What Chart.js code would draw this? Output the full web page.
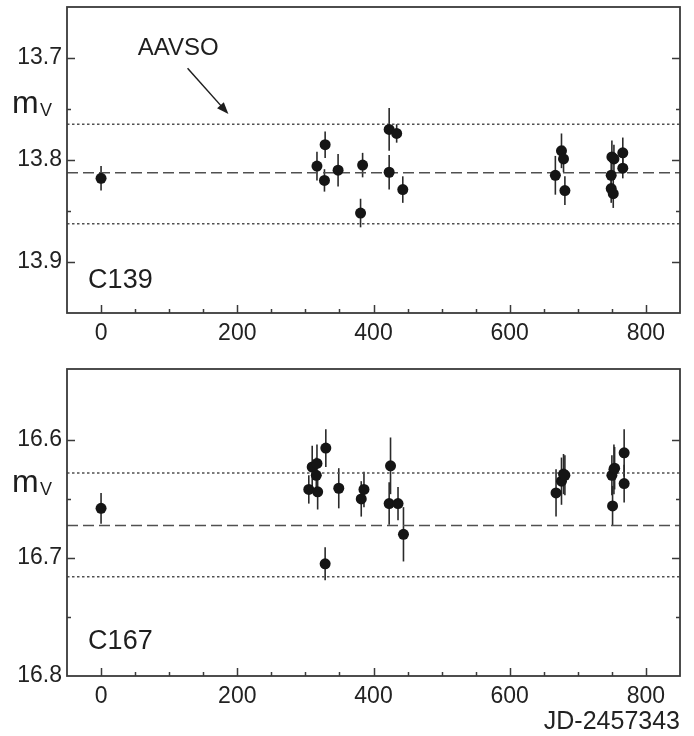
<!DOCTYPE html>
<html>
<head>
<meta charset="utf-8">
<script src="https://cdn.jsdelivr.net/npm/chart.js@4/dist/chart.umd.min.js"></script>
<style>
  body { margin: 0; background: #fff; }
  .panel { position: absolute; left: 0; width: 694px; }
  #top_panel { top: 0; height: 360px; }
  #bottom_panel { top: 360px; height: 376px; }
</style>
</head>
<body>
<div class="panel" id="top_panel"><canvas id="chart_c139"></canvas></div>
<div class="panel" id="bottom_panel"><canvas id="chart_c167"></canvas></div>
<script>
// C139
let c139Days = [0, 317, 329, 328, 348, 381, 384, 423, 434, 423, 443, 667, 676, 679, 681, 750, 753, 749, 749, 752, 766, 766]
let c139Mag = [13.818, 13.806, 13.785, 13.820, 13.810, 13.852, 13.805, 13.770, 13.774, 13.812, 13.829, 13.815, 13.791, 13.799, 13.830, 13.797, 13.799, 13.815, 13.828, 13.833, 13.793, 13.808]
let c139Err = [0.012, 0.014, 0.013, 0.011, 0.016, 0.014, 0.012, 0.021, 0.009, 0.017, 0.013, 0.019, 0.017, 0.013, 0.014, 0.016, 0.014, 0.016, 0.014, 0.014, 0.015, 0.010]
let c139Levels = [13.765, 13.8124, 13.8626]   // AAVSO mean and +-1 sigma

// C167
let c167Days = [0, 305, 310, 316, 317, 318, 330, 329, 349, 382, 386, 425, 423, 436, 444, 668, 676, 679, 681, 750, 753, 754, 751, 768, 768]
let c167Mag = [16.658, 16.642, 16.623, 16.630, 16.620, 16.644, 16.607, 16.705, 16.641, 16.650, 16.642, 16.622, 16.654, 16.654, 16.680, 16.645, 16.635, 16.629, 16.630, 16.630, 16.625, 16.624, 16.656, 16.611, 16.637]
let c167Err = [0.013, 0.012, 0.018, 0.015, 0.016, 0.015, 0.016, 0.014, 0.017, 0.015, 0.015, 0.024, 0.018, 0.014, 0.023, 0.020, 0.020, 0.017, 0.017, 0.017, 0.021, 0.018, 0.017, 0.020, 0.016]
let c167Levels = [16.628, 16.6725, 16.716]

let xRange = [-50, 850]
let xLabelStep = 200
let xTickStep = 50
let yTickStep = 0.05
let xTitle = 'JD-2457343'

Chart.defaults.font.family = '"Liberation Sans", Arial, Helvetica, sans-serif'
Chart.defaults.color = '#222'

const isTenth = v => Math.abs(v * 10 - Math.round(v * 10)) < 1e-6

// vertical error bars under the points
const errorBars = {
  id: 'errorBars',
  beforeDatasetsDraw(chart, args, opts) {
    let { ctx, scales: { y } } = chart
    let meta = chart.getDatasetMeta(0)
    let data = chart.data.datasets[0].data
    ctx.save()
    ctx.strokeStyle = '#2a2a2a'
    ctx.lineWidth = 1.6
    meta.data.forEach((pt, i) => {
      let e = opts.err[i]
      ctx.beginPath()
      ctx.moveTo(pt.x, y.getPixelForValue(data[i].y - e))
      ctx.lineTo(pt.x, y.getPixelForValue(data[i].y + e))
      ctx.stroke()
    })
    ctx.restore()
  }
}

// box frame with inward ticks on bottom, left and right
const frameTicks = {
  id: 'frameTicks',
  afterDraw(chart) {
    let { ctx, chartArea: a, scales: { x, y } } = chart
    ctx.save()
    ctx.strokeStyle = '#3a3a3a'
    ctx.lineWidth = 1.5
    x.ticks.forEach(t => {
      if (t.value <= x.min || t.value >= x.max) return
      let px = Math.round(x.getPixelForValue(t.value)) + 0.5
      let len = t.value % xLabelStep === 0 ? 8 : 4
      ctx.beginPath()
      ctx.moveTo(px, a.bottom)
      ctx.lineTo(px, a.bottom - len)
      ctx.stroke()
    })
    y.ticks.forEach(t => {
      if (t.value <= y.min + 1e-6 || t.value >= y.max - 1e-6) return
      let py = Math.round(y.getPixelForValue(t.value)) + 0.5
      let len = isTenth(t.value) ? 8 : 4
      ctx.beginPath()
      ctx.moveTo(a.left, py)
      ctx.lineTo(a.left + len, py)
      ctx.moveTo(a.right, py)
      ctx.lineTo(a.right - len, py)
      ctx.stroke()
    })
    ctx.lineWidth = 1.8
    ctx.strokeRect(a.left, a.top, a.right - a.left, a.bottom - a.top)
    ctx.restore()
  }
}

// free text: star name, m_V label, AAVSO arrow
const notes = {
  id: 'notes',
  afterDraw(chart, args, opts) {
    let { ctx, scales: { x, y } } = chart
    ctx.save()
    ctx.fillStyle = '#1e1e1e'
    ctx.textBaseline = 'alphabetic'
    ctx.textAlign = 'left'
    opts.texts.forEach(t => {
      ctx.font = t.font
      let px = t.px != null ? t.px : x.getPixelForValue(t.x)
      let py = t.py != null ? t.py : y.getPixelForValue(t.y)
      ctx.fillText(t.text, px, py)
    })
    if (opts.arrow) {
      let x0 = x.getPixelForValue(opts.arrow[0]), y0 = y.getPixelForValue(opts.arrow[1])
      let x1 = x.getPixelForValue(opts.arrow[2]), y1 = y.getPixelForValue(opts.arrow[3])
      let ang = Math.atan2(y1 - y0, x1 - x0)
      ctx.strokeStyle = '#1e1e1e'
      ctx.lineWidth = 1.5
      ctx.beginPath()
      ctx.moveTo(x0, y0)
      ctx.lineTo(x1 - 8 * Math.cos(ang), y1 - 8 * Math.sin(ang))
      ctx.stroke()
      ctx.beginPath()
      ctx.moveTo(x1, y1)
      ctx.lineTo(x1 - 12 * Math.cos(ang) + 4.5 * Math.sin(ang), y1 - 12 * Math.sin(ang) - 4.5 * Math.cos(ang))
      ctx.lineTo(x1 - 12 * Math.cos(ang) - 4.5 * Math.sin(ang), y1 - 12 * Math.sin(ang) + 4.5 * Math.cos(ang))
      ctx.closePath()
      ctx.fill()
    }
    ctx.restore()
  }
}

function levelLine(value, dash) {
  return {
    data: [{ x: xRange[0], y: value }, { x: xRange[1], y: value }],
    showLine: true,
    borderColor: '#505050',
    borderWidth: 1.5,
    borderDash: dash,
    pointRadius: 0
  }
}

function makePanel(canvasId, days, mags, errs, levels, yMin, yMax, padTop, axisHeight, noteOpts, withTitle) {
  let points = days.map((d, i) => ({ x: d, y: mags[i] }))
  return new Chart(document.getElementById(canvasId), {
    type: 'scatter',
    data: {
      datasets: [
        {
          data: points,
          pointRadius: 5.5,
          pointHoverRadius: 5.5,
          pointBackgroundColor: '#151515',
          pointBorderWidth: 0
        },
        levelLine(levels[0], [2.5, 2.5]),
        levelLine(levels[1], [11, 5]),
        levelLine(levels[2], [2.5, 2.5])
      ]
    },
    options: {
      responsive: true,
      maintainAspectRatio: false,
      animation: false,
      events: [],
      layout: { padding: { left: 0, right: 14, top: padTop, bottom: 0 } },
      plugins: {
        legend: { display: false },
        tooltip: { enabled: false },
        errorBars: { err: errs },
        notes: noteOpts
      },
      scales: {
        x: {
          type: 'linear',
          min: xRange[0],
          max: xRange[1],
          grid: { display: false, drawTicks: false },
          border: { display: false },
          ticks: {
            stepSize: xTickStep,
            autoSkip: false,
            maxRotation: 0,
            padding: 7,
            font: { size: 23 },
            color: '#222',
            callback: v => v % xLabelStep === 0 ? String(v) : ''
          },
          title: {
            display: withTitle,
            text: xTitle,
            align: 'end',
            font: { size: 25 },
            color: '#222',
            padding: { top: 0, bottom: -1 }
          },
          afterFit: s => { s.height = axisHeight; s.paddingLeft = 0; s.paddingRight = 0 }
        },
        y: {
          reverse: true,
          min: yMin,
          max: yMax,
          grid: { display: false, drawTicks: false },
          border: { display: false },
          ticks: {
            stepSize: yTickStep,
            autoSkip: false,
            padding: 5,
            font: { size: 23 },
            color: '#222',
            callback: v => isTenth(v) ? v.toFixed(1) : ''
          },
          afterFit: s => { s.width = 67; s.paddingTop = 0; s.paddingBottom = 0 }
        }
      }
    },
    plugins: [errorBars, frameTicks, notes]
  })
}

makePanel('chart_c139', c139Days, c139Mag, c139Err, c139Levels, 13.65, 13.95, 7, 47, {
  texts: [
    { text: 'm', font: '32px "Liberation Sans", Arial', px: 12, py: 113 },
    { text: 'V', font: '18px "Liberation Sans", Arial', px: 40, py: 116 },
    { text: 'AAVSO', font: '24px "Liberation Sans", Arial', x: 54, y: 13.697 },
    { text: 'C139', font: '27px "Liberation Sans", Arial', x: -19, y: 13.925 }
  ],
  arrow: [127, 13.710, 187, 13.755]
}, false)

makePanel('chart_c167', c167Days, c167Mag, c167Err, c167Levels, 16.54, 16.8, 9, 60, {
  texts: [
    { text: 'm', font: '32px "Liberation Sans", Arial', px: 12, py: 132 },
    { text: 'V', font: '18px "Liberation Sans", Arial', px: 40, py: 135 },
    { text: 'C167', font: '27px "Liberation Sans", Arial', x: -19, y: 16.7775 }
  ]
}, true)
</script>
</body>
</html>
